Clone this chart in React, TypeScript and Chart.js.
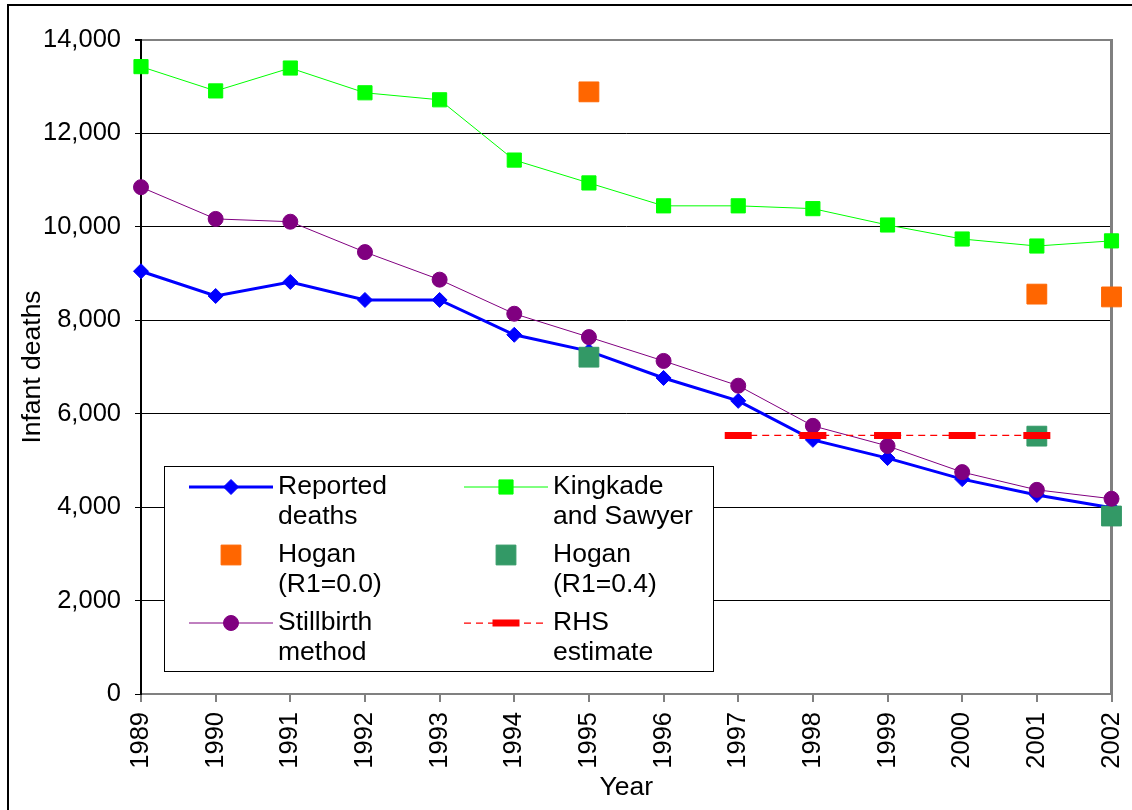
import React, { useEffect, useRef } from 'react';
import { Chart, registerables } from 'chart.js';
import { drawPoint } from 'chart.js/helpers';

Chart.register(...registerables);

const years = ['1989', '1990', '1991', '1992', '1993', '1994', '1995', '1996', '1997', '1998', '1999', '2000', '2001', '2002'];
const reportedDeaths = [9050, 8520, 8820, 8435, 8435, 7690, 7340, 6765, 6275, 5440, 5050, 4600, 4260, 3985];
const kingkadeSawyer = [13430, 12910, 13400, 12870, 12720, 11430, 10940, 10450, 10450, 10390, 10040, 9740, 9590, 9700];
const hoganR00 = [null, null, null, null, null, null, 12890, null, null, null, null, null, 8560, 8500];
const hoganR04 = [null, null, null, null, null, null, 7210, null, null, null, null, null, 5520, 3810];
const stillbirthMethod = [10850, 10170, 10110, 9460, 8870, 8140, 7640, 7130, 6600, 5740, 5310, 4750, 4370, 4180];
const rhsEstimate = [null, null, null, null, null, null, null, null, 5535, 5535, 5535, 5535, 5535, null];
const yTicks = [0, 2000, 4000, 6000, 8000, 10000, 12000, 14000];

const legendLabels = [
  ['Reported', 'deaths'],
  ['Kingkade', 'and Sawyer'],
  ['Hogan', '(R1=0.0)'],
  ['Hogan', '(R1=0.4)'],
  ['Stillbirth', 'method'],
  ['RHS', 'estimate'],
];

const FONT = '"Liberation Sans", Arial, sans-serif';

export default function App() {
  const ref = useRef<HTMLCanvasElement | null>(null);

  useEffect(() => {
    const canvas = ref.current;
    if (!canvas) return;

    const borderPlugin = {
      id: 'borders',
      beforeDatasetsDraw(chart: any) {
        const { ctx, chartArea } = chart;
        ctx.save();
        ctx.strokeStyle = '#808080';
        ctx.lineWidth = 3;
        ctx.beginPath();
        ctx.moveTo(chartArea.right, chartArea.top - 1);
        ctx.lineTo(chartArea.right, chartArea.bottom);
        ctx.stroke();
        ctx.restore();
      },
      afterDraw(chart: any) {
        const { ctx } = chart;
        ctx.save();
        ctx.strokeStyle = '#000';
        ctx.lineWidth = 2;
        ctx.strokeRect(8, 5, 1300, 1000);
        ctx.restore();
      },
    };

    const legendPlugin = {
      id: 'customLegend',
      afterDatasetsDraw(chart: any) {
        const { ctx } = chart;
        const box = { x: 164, y: 466, w: 549, h: 205 };
        ctx.save();
        ctx.fillStyle = '#fff';
        ctx.fillRect(box.x, box.y, box.w, box.h);
        ctx.strokeStyle = '#000';
        ctx.lineWidth = 1;
        ctx.strokeRect(box.x + 0.5, box.y + 0.5, box.w, box.h);
        const colX = [189, 464];
        const rowY = [487, 555, 623];
        legendLabels.forEach((lines, i) => {
          const ds = chart.data.datasets[i];
          const col = i % 2;
          const row = Math.floor(i / 2);
          const x0 = colX[col];
          const x1 = x0 + 84;
          const cx = x0 + 42;
          const y = rowY[row];
          if (ds.showLine !== false) {
            ctx.save();
            ctx.strokeStyle = ds.borderColor;
            ctx.lineWidth = ds.borderWidth;
            ctx.setLineDash(ds.borderDash || []);
            ctx.beginPath();
            ctx.moveTo(x0, y);
            ctx.lineTo(x1, y);
            ctx.stroke();
            ctx.restore();
          }
          ctx.save();
          ctx.fillStyle = ds.pointBackgroundColor;
          ctx.strokeStyle = ds.pointBorderColor;
          ctx.lineWidth = ds.pointBorderWidth;
          drawPoint(ctx, { pointStyle: ds.pointStyle, radius: ds.pointRadius, rotation: 0, borderWidth: ds.pointBorderWidth }, cx, y);
          ctx.restore();
          ctx.fillStyle = '#000';
          ctx.font = `26.5px ${FONT}`;
          ctx.textBaseline = 'middle';
          ctx.textAlign = 'left';
          ctx.fillText(lines[0], x1 + 5, y);
          ctx.fillText(lines[1], x1 + 5, y + 30);
        });
        ctx.restore();
      },
    };

    const chart = new Chart(canvas, {
      type: 'line',
      data: {
        labels: years,
        datasets: [
          {
            label: 'Reported deaths',
            data: reportedDeaths,
            borderColor: '#0000FF',
            backgroundColor: '#0000FF',
            borderWidth: 3,
            pointStyle: 'rectRot',
            pointRadius: 7.5,
            pointBackgroundColor: '#0000FF',
            pointBorderColor: '#0000FF',
            pointBorderWidth: 1,
            order: 6,
          },
          {
            label: 'Kingkade and Sawyer',
            data: kingkadeSawyer,
            borderColor: '#00FF00',
            backgroundColor: '#00FF00',
            borderWidth: 1,
            pointStyle: 'rect',
            pointRadius: 10,
            pointBackgroundColor: '#00FF00',
            pointBorderColor: '#00FF00',
            pointBorderWidth: 1,
            order: 5,
          },
          {
            label: 'Hogan (R1=0.0)',
            data: hoganR00,
            showLine: false,
            borderColor: '#FF6600',
            backgroundColor: '#FF6600',
            borderWidth: 0,
            pointStyle: 'rect',
            pointRadius: 14,
            pointBackgroundColor: '#FF6600',
            pointBorderColor: '#FF6600',
            pointBorderWidth: 1,
            order: 4,
          },
          {
            label: 'Hogan (R1=0.4)',
            data: hoganR04,
            showLine: false,
            borderColor: '#339966',
            backgroundColor: '#339966',
            borderWidth: 0,
            pointStyle: 'rect',
            pointRadius: 14,
            pointBackgroundColor: '#339966',
            pointBorderColor: '#339966',
            pointBorderWidth: 1,
            order: 3,
          },
          {
            label: 'Stillbirth method',
            data: stillbirthMethod,
            borderColor: '#800080',
            backgroundColor: '#800080',
            borderWidth: 1,
            pointStyle: 'circle',
            pointRadius: 7.5,
            pointBackgroundColor: '#800080',
            pointBorderColor: '#800080',
            pointBorderWidth: 1,
            order: 2,
          },
          {
            label: 'RHS estimate',
            data: rhsEstimate,
            borderColor: '#FF0000',
            backgroundColor: '#FF0000',
            borderWidth: 1.25,
            borderDash: [7, 5],
            pointStyle: 'line',
            pointRadius: 13.5,
            pointBackgroundColor: '#FF0000',
            pointBorderColor: '#FF0000',
            pointBorderWidth: 7,
            order: 1,
          },
        ] as any,
      },
      options: {
        animation: false,
        responsive: false,
        devicePixelRatio: 1,
        spanGaps: false,
        layout: { padding: { left: 0, right: 19, top: 40, bottom: 0 } },
        plugins: {
          legend: { display: false },
          tooltip: { enabled: false },
        },
        scales: {
          x: {
            type: 'category',
            offset: false,
            title: {
              display: true,
              text: 'Year',
              color: '#000',
              font: { family: FONT, size: 26.5 },
              padding: { top: 0, bottom: 6 },
            },
            ticks: {
              color: '#000',
              font: { family: FONT, size: 25.5 },
              minRotation: 90,
              maxRotation: 90,
              autoSkip: false,
              padding: 10,
            },
            grid: {
              drawOnChartArea: false,
              drawTicks: true,
              tickLength: 8,
              color: '#808080',
              lineWidth: 2,
            },
            border: { color: '#808080', width: 2 },
            afterFit: (scale: any) => {
              scale.height = 116;
              scale.paddingLeft = 0;
              scale.paddingRight = 0;
            },
          },
          y: {
            min: 0,
            max: 14000,
            title: {
              display: true,
              text: 'Infant deaths',
              color: '#000',
              font: { family: FONT, size: 26.5 },
              padding: { top: 17, bottom: 0 },
            },
            afterBuildTicks: (scale: any) => {
              scale.ticks = yTicks.map((v) => ({ value: v }));
            },
            ticks: {
              color: '#000',
              font: { family: FONT, size: 25.5 },
              padding: 14,
              callback: (v: any) => Number(v).toLocaleString('en-US'),
            },
            grid: {
              color: (c: any) => (c.tick && c.tick.value === 14000 ? '#808080' : '#000'),
              lineWidth: (c: any) => (c.tick && c.tick.value === 14000 ? 2 : 1),
              tickColor: '#000',
              tickLength: 6,
            },
            border: { color: '#000', width: 2 },
            afterFit: (scale: any) => {
              scale.width = 141;
              scale.paddingTop = 0;
              scale.paddingBottom = 0;
            },
          },
        },
      },
      plugins: [borderPlugin, legendPlugin],
    } as any);

    return () => chart.destroy();
  }, []);

  return (
    <div style={{ position: 'absolute', left: 0, top: 0, width: 1132, height: 810, background: '#fff' }}>
      <canvas ref={ref} width={1132} height={810} style={{ display: 'block' }} />
    </div>
  );
}
